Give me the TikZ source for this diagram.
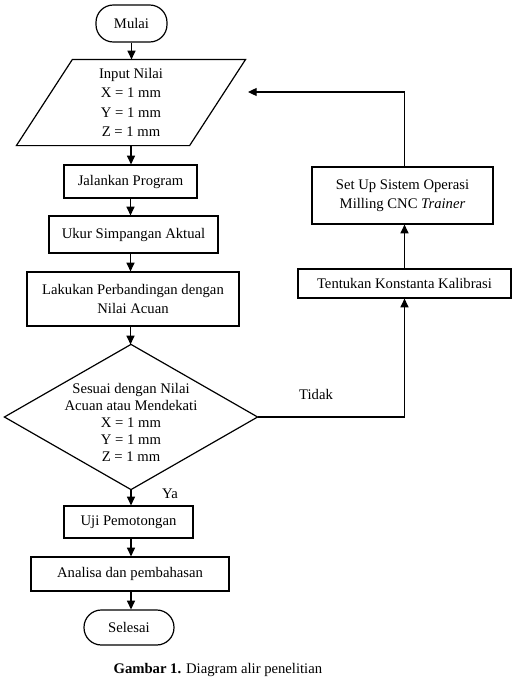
\documentclass[tikz,border=0pt]{standalone}
\usepackage{fontspec}
\setmainfont{Liberation Serif}
\usetikzlibrary{arrows.meta,calc}
\begin{document}
\begin{tikzpicture}[x=0.75pt,y=-0.75pt,
  line width=0.9pt,
  every node/.style={font=\fontsize{11}{14.5}\selectfont},
  box/.style={draw,rectangle,inner sep=0pt,align=center},
  term/.style={draw,rectangle,rounded corners=13pt,inner sep=0pt},
  arr/.style={-{Triangle[length=6.5pt,width=6pt]}},
  lbl/.style={inner sep=0pt}]
\useasboundingbox (0,0) rectangle (513,678);
% nodes
\node[term,minimum width=53.25pt,minimum height=27.75pt] (mulai) at (131.5,23.5) {Mulai};
\node[inner sep=0pt,minimum width=171pt,minimum height=63.75pt,align=center] (inp) at (131,102.5)
  {Input Nilai\\X = 1 mm\\Y = 1 mm\\Z = 1 mm};
\draw ($(inp.north west)+(56,0)$) -- (inp.north east) -- ($(inp.south east)+(-56,0)$) -- (inp.south west) -- cycle;
\node[box,minimum width=99.75pt,minimum height=24.75pt] (jal) at (130.5,181.5) {Jalankan Program};
\node[box,minimum width=126.75pt,minimum height=27.75pt] (ukur) at (133.5,234.5) {Ukur Simpangan Aktual};
\node[box,minimum width=159pt,minimum height=40.5pt] (lak) at (133,299) {Lakukan Perbandingan dengan\\Nilai Acuan};
\node[inner sep=0pt,minimum width=189pt,minimum height=108pt] (dec) at (131,417) {};
\draw (dec.north) -- (dec.east) -- (dec.south) -- (dec.west) -- cycle;
\node[inner sep=0pt,align=center,font=\fontsize{11}{12.75}\selectfont] (dectext) at (131,422)
  {Sesuai dengan Nilai\\Acuan atau Mendekati\\X = 1 mm\\Y = 1 mm\\Z = 1 mm};
\node[box,minimum width=96.75pt,minimum height=24pt] (uji) at (128.5,522) {Uji Pemotongan};
\node[box,minimum width=148.5pt,minimum height=25.5pt] (ana) at (130,574) {Analisa dan pembahasan};
\node[term,minimum width=67.5pt,minimum height=26.25pt] (sel) at (129,627.5) {Selesai};
\node[box,minimum width=135.75pt,minimum height=42.75pt] (setup) at (402.5,195.5) {Set Up Sistem Operasi\\Milling CNC \textit{Trainer}};
\node[box,minimum width=159.75pt,minimum height=21.75pt] (tent) at (404.5,283.5) {Tentukan Konstanta Kalibrasi};
\node[lbl] (tidak) at (316,394) {Tidak};
\node[lbl] (ya) at (170,494) {Ya};
\coordinate (back) at (248,92);
\node[lbl,anchor=base west] (cap) at (113,673) {\textbf{Gambar 1.} Diagram alir penelitian};
% connectors
\draw[arr] (mulai.south) -- (mulai.south |- inp.north);
\draw[arr] (inp.south) -- (inp.south |- jal.north);
\draw[arr] (jal.south) -- (jal.south |- ukur.north);
\draw[arr] (ukur.south -| jal.south) -- (jal.south |- lak.north);
\draw[arr] (lak.south -| jal.south) -- (jal.south |- dec.north);
\draw[arr] (dec.south) -- (dec.south |- uji.north);
\draw[arr] (uji.south -| dec.south) -- (dec.south |- ana.north);
\draw[arr] (ana.south -| dec.south) -- (dec.south |- sel.north);
\draw[arr] (dec.east) -| (tent.south);
\draw[arr] (tent.north) -- (tent.north |- setup.south);
\draw[arr] (setup.north -| tent.north) |- (back);
\end{tikzpicture}
\end{document}
